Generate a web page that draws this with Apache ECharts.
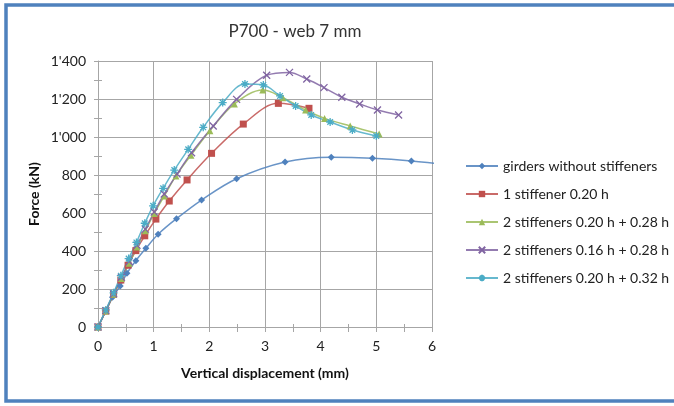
<!DOCTYPE html>
<html>
<head>
<meta charset="utf-8">
<script src="https://cdn.jsdelivr.net/npm/echarts@6/dist/echarts.min.js"></script>
<style>
html, body { margin:0; padding:0; background:#ffffff; }
#main { width:674px; height:406px; }
</style>
</head>
<body>
<div id="main"></div>
<script>
// 各曲线数据 (位移 mm, 力 kN)
var seriesNames = ['girders without stiffeners', '1 stiffener 0.20 h', '2 stiffeners 0.20 h + 0.28 h',
	'2 stiffeners 0.16 h + 0.28 h', '2 stiffeners 0.20 h + 0.32 h'];

var dispNone = [0, 0.14, 0.26, 0.40, 0.52, 0.68, 0.86, 1.08, 1.41, 1.86, 2.49, 3.36, 4.19, 4.93, 5.63, 6.4];
var forceNone = [0, 84, 156, 216, 283, 349, 414, 488, 570, 668, 780, 868, 893, 888, 874, 850];

var disp1 = [0, 0.14, 0.28, 0.41, 0.54, 0.68, 0.84, 1.04, 1.28, 1.60, 2.04, 2.61, 3.24, 3.79];
var force1 = [0, 84, 172, 247, 325, 402, 480, 568, 663, 774, 914, 1068, 1177, 1151];

var disp2a = [0, 0.14, 0.28, 0.42, 0.56, 0.70, 0.85, 1.01, 1.19, 1.40, 1.67, 2.01, 2.45, 2.96, 3.32, 3.73, 4.07, 4.53, 5.05];
var force2a = [0, 84, 172, 255, 335, 421, 507, 598, 689, 795, 904, 1033, 1174, 1247, 1207, 1142, 1098, 1058, 1016];

var disp2b = [0, 0.14, 0.28, 0.42, 0.56, 0.70, 0.85, 1.01, 1.19, 1.42, 1.68, 2.07, 2.49, 3.03, 3.44, 3.75, 4.06, 4.38, 4.70, 5.02, 5.40];
var force2b = [0, 86, 175, 262, 345, 430, 515, 605, 700, 805, 917, 1058, 1198, 1325, 1340, 1305, 1260, 1209, 1174, 1142, 1116];

var disp2c = [0, 0.14, 0.28, 0.41, 0.55, 0.69, 0.84, 0.99, 1.17, 1.37, 1.62, 1.89, 2.24, 2.64, 2.97, 3.27, 3.55, 3.83, 4.17, 4.57, 5.0];
var force2c = [0, 90, 180, 270, 360, 445, 546, 638, 730, 826, 935, 1051, 1181, 1279, 1274, 1216, 1163, 1116, 1079, 1037, 1005];

var xTicks = [0, 1, 2, 3, 4, 5, 6];
var yTicks = [0, 200, 400, 600, 800, 1000, 1200, 1400];

function zip(xs, ys) {
	var res = [];
	for (var i = 0; i < xs.length; i++) {
		res.push([xs[i], ys[i]]);
	}
	return res;
}

var FONT = 'Lato, "Open Sans", sans-serif';
var colors = ['#4F81BD', '#C0504D', '#9BBB59', '#8064A2', '#4BACC6'];
var symX = 'path://M0,0 L10,10 M10,0 L0,10';
var symStar = 'path://M0,5 L10,5 M5,0 L5,10 M1.5,1.5 L8.5,8.5 M8.5,1.5 L1.5,8.5';

function makeSeries(idx, xs, ys, symbol, size, stroke) {
	var s = {
		name: seriesNames[idx],
		type: 'line',
		data: zip(xs, ys),
		smooth: 0.35,
		symbol: symbol,
		symbolSize: size,
		showAllSymbol: true,
		clip: true,
		lineStyle: {width: 1.5, color: colors[idx], opacity: 0.85},
		itemStyle: {color: colors[idx]}
	};
	if (stroke) {
		s.itemStyle = {color: 'none', borderColor: colors[idx], borderWidth: 1.3};
	}
	return s;
}

var chart = echarts.init(document.getElementById('main'), null, {renderer: 'canvas'});
var axisGray = '#a6a6a6';
var option = {
	backgroundColor: '#ffffff',
	color: colors,
	animation: false,
	textStyle: {fontFamily: FONT},
	title: {
		text: 'P700 - web 7 mm',
		left: 290, top: 18, textAlign: 'center',
		textStyle: {fontFamily: FONT, fontSize: 17, fontWeight: 'normal', color: '#333333'}
	},
	legend: {
		orient: 'vertical',
		left: 460, top: 154,
		itemWidth: 32, itemHeight: 8, itemGap: 14,
		textStyle: {fontFamily: FONT, fontSize: 14, color: '#222222'},
		data: seriesNames
	},
	grid: {left: 98, right: 242, top: 61, bottom: 79},
	xAxis: [{
		type: 'value', min: 0, max: 6, interval: 1,
		name: 'Vertical displacement (mm)', nameLocation: 'middle', nameGap: 39,
		nameTextStyle: {fontFamily: FONT, fontSize: 14, fontWeight: 'bold', color: '#111111'},
		axisLine: {lineStyle: {color: axisGray, width: 1}},
		axisTick: {show: true, length: 5, lineStyle: {color: axisGray}},
		minorTick: {show: true, splitNumber: 2, length: 5, lineStyle: {color: axisGray}},
		axisLabel: {fontFamily: FONT, fontSize: 14, color: '#222222', margin: 12},
		splitLine: {show: true, lineStyle: {color: axisGray, width: 1}}
	}, {
		type: 'value', min: 0, max: 6, interval: 1, position: 'bottom',
		axisLine: {show: false},
		axisTick: {show: true, inside: true, length: 3, lineStyle: {color: axisGray}},
		minorTick: {show: true, splitNumber: 2, length: 3, lineStyle: {color: axisGray}},
		axisLabel: {show: false},
		splitLine: {show: false}
	}],
	yAxis: [{
		type: 'value', min: 0, max: 1400, interval: 200,
		name: 'Force (kN)', nameLocation: 'middle', nameGap: 57,
		nameTextStyle: {fontFamily: FONT, fontSize: 14, fontWeight: 'bold', color: '#111111'},
		axisLine: {show: true, lineStyle: {color: axisGray, width: 1}},
		axisTick: {show: true, length: 4, lineStyle: {color: axisGray}},
		minorTick: {show: true, splitNumber: 2, length: 4, lineStyle: {color: axisGray}},
		axisLabel: {
			fontFamily: FONT, fontSize: 14, color: '#222222', margin: 12,
			formatter: function (v) {
				return String(v).replace(/\B(?=(\d{3})+(?!\d))/g, "'");
			}
		},
		splitLine: {show: true, lineStyle: {color: axisGray, width: 1}}
	}, {
		type: 'value', min: 0, max: 1400, interval: 200, position: 'left',
		axisLine: {show: false},
		axisTick: {show: true, inside: true, length: 4, lineStyle: {color: axisGray}},
		minorTick: {show: true, splitNumber: 2, length: 4, lineStyle: {color: axisGray}},
		axisLabel: {show: false},
		splitLine: {show: false}
	}],
	graphic: [{
		type: 'rect', silent: true, z: 100,
		shape: {x: 6, y: 5, width: 690, height: 396},
		style: {fill: 'none', stroke: '#4F81BD', lineWidth: 3.5}
	}],
	series: [
		makeSeries(0, dispNone, forceNone, 'diamond', 7, false),
		makeSeries(1, disp1, force1, 'rect', 7, false),
		makeSeries(2, disp2a, force2a, 'triangle', 7, false),
		makeSeries(3, disp2b, force2b, symX, 7, true),
		makeSeries(4, disp2c, force2c, symStar, 8, true)
	]
};
chart.setOption(option);
</script>
</body>
</html>
